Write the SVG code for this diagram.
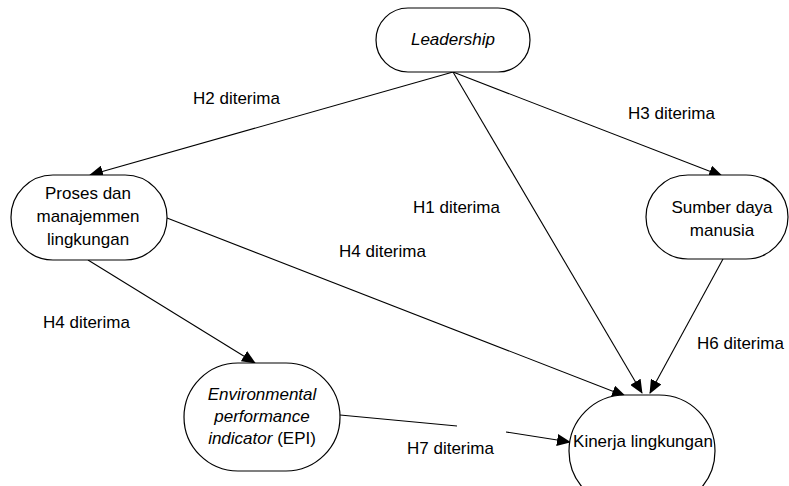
<svg xmlns="http://www.w3.org/2000/svg" width="789" height="486" viewBox="0 0 789 486">
<style>
.n{fill:#fff;stroke:#000;stroke-width:1.2}
.t{font-family:"Liberation Sans",Arial,sans-serif;font-size:17px;fill:#000;text-anchor:middle}
.l{font-family:"Liberation Sans",Arial,sans-serif;font-size:17px;fill:#000}
.c{fill:none;stroke:#000;stroke-width:1.1;marker-end:url(#a)}
</style>
<defs>
<marker id="a" markerWidth="14" markerHeight="12" refX="13" refY="6" orient="auto" markerUnits="userSpaceOnUse">
<path d="M0,0 L14,6 L0,12 Z" fill="#000"/>
</marker>
</defs>
<rect width="789" height="486" fill="#fff"/>
<g id="connectors">
<path class="c" d="M453,72 L90,175"/>
<path class="c" d="M453,72 L722,176"/>
<path class="c" d="M453,72 L642,393"/>
<path class="c" d="M723,259 L650,393"/>
<path class="c" d="M167,218 L625,396"/>
<path class="c" d="M88,260 L255,363"/>
<path class="c" d="M340,415 L457,426 M506,432 L570,442"/>
</g>
<g id="leadership">
<rect class="n" x="376" y="8" width="154" height="64" rx="32"/>
<text class="t" x="453" y="45" font-style="italic">Leadership</text>
</g>
<g id="proses">
<rect class="n" x="11" y="175" width="156" height="85" rx="42"/>
<text class="t" x="88" y="199">Proses dan</text>
<text class="t" x="88" y="222">manajemmen</text>
<text class="t" x="88" y="245">lingkungan</text>
</g>
<g id="sumber">
<rect class="n" x="646" y="175" width="142" height="84" rx="42"/>
<text class="t" x="722" y="213">Sumber daya</text>
<text class="t" x="722" y="236">manusia</text>
</g>
<g id="epi">
<rect class="n" x="184" y="363" width="156" height="108" rx="54"/>
<text class="t" x="262" y="400" font-style="italic">Environmental</text>
<text class="t" x="262" y="422" font-style="italic">performance</text>
<text class="t" x="262" y="444"><tspan font-style="italic">indicator</tspan> (EPI)</text>
</g>
<g id="kinerja">
<rect class="n" x="569" y="395" width="146" height="112" rx="56"/>
<text class="t" x="643" y="447">Kinerja lingkungan</text>
</g>
<g id="labels">
<text class="l" x="193" y="104">H2 diterima</text>
<text class="l" x="628" y="119">H3 diterima</text>
<text class="l" x="413" y="213">H1 diterima</text>
<text class="l" x="339" y="257">H4 diterima</text>
<text class="l" x="43" y="328">H4 diterima</text>
<text class="l" x="697" y="349">H6 diterima</text>
<text class="l" x="407" y="454">H7 diterima</text>
</g>
</svg>
